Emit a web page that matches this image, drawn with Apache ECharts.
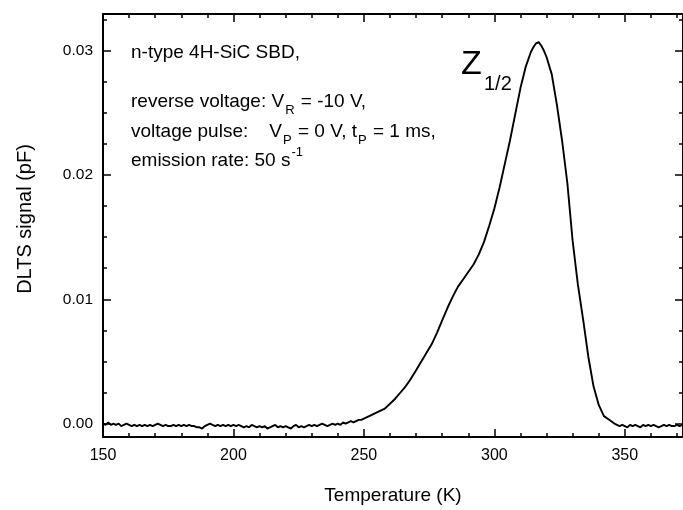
<!DOCTYPE html>
<html>
<head>
<meta charset="utf-8">
<script src="https://cdn.jsdelivr.net/npm/echarts@6.0.0/dist/echarts.min.js"></script>
<style>
    html, body { margin: 0; padding: 0; background: #fff; overflow: hidden; }
    #chart { width: 683px; height: 510px; }
</style>
</head>
<body>
<div id="chart"></div>
<script>
'use strict';
// 温度 (K)
var TEMPERATURE = [
    150, 151, 152, 153, 154, 155, 156, 157, 158, 159,
    160, 161, 162, 163, 164, 165, 166, 167, 168, 169,
    170, 171, 172, 173, 174, 175, 176, 177, 178, 179,
    180, 181, 182, 183, 184, 185, 186, 187, 188, 189,
    190, 191, 192, 193, 194, 195, 196, 197, 198, 199,
    200, 201, 202, 203, 204, 205, 206, 207, 208, 209,
    210, 211, 212, 213, 214, 215, 216, 217, 218, 219,
    220, 221, 222, 223, 224, 225, 226, 227, 228, 229,
    230, 231, 232, 233, 234, 235, 236, 237, 238, 239,
    240, 241, 242, 243, 244, 245, 246, 247, 248, 249,
    250, 252, 254, 256, 258, 260, 262, 264, 266, 268,
    270, 272, 274, 276, 278, 280, 282, 284, 286, 288,
    290, 292, 294, 296, 298, 300, 302, 304, 306, 308,
    310, 312, 314, 315, 316, 317, 318, 319, 320, 322,
    324, 326, 328, 330, 332, 334, 336, 338, 340, 342,
    344, 346, 347, 348, 349, 350, 351, 352, 353, 354,
    355, 356, 357, 358, 359, 360, 361, 362, 363, 364,
    365, 366, 367, 368, 369, 370, 371, 372
];
// DLTS 信号 (pF)
var SIGNAL = [
    0.0000, -0.0001, 0.0001, -0.0001, 0.0000, -0.0001, 0.0000, -0.0002, -0.0001, 0.0000,
    -0.0001, -0.0002, -0.0001, -0.0002, -0.0001, -0.0002, -0.0001, -0.0002, -0.0001, -0.0002,
    -0.0001, 0.0000, -0.0001, -0.0002, -0.0001, -0.0002, -0.0002, -0.0001, -0.0002, -0.0001,
    -0.0002, -0.0001, -0.0002, -0.0001, -0.0002, -0.0002, -0.0003, -0.0003, -0.0004, -0.0002,
    -0.0001, 0.0000, -0.0001, -0.0002, -0.0001, -0.0002, -0.0001, -0.0002, -0.0001, -0.0002,
    -0.0001, -0.0002, -0.0001, -0.0002, -0.0003, -0.0002, -0.0003, -0.0001, -0.0002, -0.0003,
    -0.0002, -0.0003, -0.0002, -0.0004, -0.0003, -0.0002, -0.0001, -0.0003, -0.0002, -0.0003,
    -0.0002, -0.0003, -0.0004, -0.0002, -0.0001, -0.0003, -0.0002, -0.0003, -0.0002, -0.0001,
    -0.0002, -0.0001, -0.0002, -0.0001, 0.0000, -0.0001, -0.0002, -0.0001, 0.0000, -0.0001,
    0.0000, -0.0001, 0.0001, 0.0000, 0.0001, 0.0002, 0.0001, 0.0002, 0.0003, 0.0003,
    0.0004, 0.0006, 0.0008, 0.0010, 0.0012, 0.0016, 0.0020, 0.0025, 0.0030, 0.0036,
    0.0043, 0.0050, 0.0057, 0.0064, 0.0073, 0.0083, 0.0093, 0.0102, 0.0110, 0.0116,
    0.0122, 0.0128, 0.0136, 0.0146, 0.0159, 0.0173, 0.0190, 0.0209, 0.0228, 0.0249,
    0.0270, 0.0287, 0.0299, 0.0303, 0.0306, 0.0307, 0.0304, 0.0300, 0.0295, 0.0281,
    0.0256, 0.0227, 0.0193, 0.0147, 0.0112, 0.0084, 0.0054, 0.0030, 0.0015, 0.0006,
    0.0003, 0.0000, -0.0001, -0.0002, -0.0001, -0.0002, -0.0003, -0.0001, -0.0002, -0.0001,
    -0.0002, -0.0003, -0.0001, -0.0002, -0.0001, -0.0002, -0.0001, -0.0002, -0.0003, -0.0002,
    -0.0001, -0.0002, -0.0001, -0.0002, -0.0002, -0.0001, -0.0002, -0.0001
];
// 刻度
var X_MAJOR = [150, 200, 250, 300, 350];
var X_MINOR = [160, 170, 180, 190, 210, 220, 230, 240, 260, 270, 280, 290, 310, 320, 330, 340, 360, 370];
var Y_MAJOR = [0, 0.01, 0.02, 0.03];
var Y_MINOR = [0.0025, 0.005, 0.0075, 0.0125, 0.015, 0.0175, 0.0225, 0.025, 0.0275, 0.0325];

var X_MIN = 150, X_MAX = 372.3;
var Y_MIN = -0.00108, Y_MAX = 0.03296;
var FONT = 'Liberation Sans, Arial, sans-serif';

var chart = echarts.init(document.getElementById('chart'));

var data = [];
for (var i = 0; i < TEMPERATURE.length; i++) {
    data.push([TEMPERATURE[i], SIGNAL[i]]);
}

// 生成一根只有刻度的坐标轴
function tickAxis(position, min, max, values, len, showLine) {
    return {
        type: 'value',
        position: position,
        min: min,
        max: max,
        axisLine: { show: showLine, onZero: false, lineStyle: { color: '#000', width: 2 } },
        axisTick: { inside: true, length: len, customValues: values, lineStyle: { color: '#000', width: 1.5 } },
        axisLabel: { show: false, customValues: values },
        splitLine: { show: false }
    };
}

var xMain = {
    type: 'value',
    position: 'bottom',
    min: X_MIN,
    max: X_MAX,
    name: 'Temperature (K)',
    nameLocation: 'middle',
    nameGap: 49,
    nameTextStyle: { color: '#000', fontSize: 19, fontFamily: FONT },
    axisLine: { onZero: false, lineStyle: { color: '#000', width: 2 } },
    axisTick: { inside: true, length: 8, customValues: X_MAJOR, lineStyle: { color: '#000', width: 1.5 } },
    axisLabel: { customValues: X_MAJOR, color: '#000', fontSize: 16, fontFamily: FONT, margin: 11 },
    splitLine: { show: false }
};

var yMain = {
    type: 'value',
    position: 'left',
    min: Y_MIN,
    max: Y_MAX,
    axisLine: { onZero: false, lineStyle: { color: '#000', width: 2 } },
    axisTick: { inside: true, length: 8, customValues: Y_MAJOR, lineStyle: { color: '#000', width: 1.5 } },
    axisLabel: {
        customValues: Y_MAJOR, color: '#000', fontSize: 15.5, fontFamily: FONT, margin: 10,
        formatter: function (v) { return v.toFixed(2); }
    },
    splitLine: { show: false }
};

// 注释文字样式
var txt = { fontSize: 19, fontFamily: FONT, color: '#000', lineHeight: 30 };
var sub = { fontSize: 13, fontFamily: FONT, color: '#000', lineHeight: 13, verticalAlign: 'bottom', padding: [0, 1, 0, 1] };
var sup = { fontSize: 13, fontFamily: FONT, color: '#000', lineHeight: 13, verticalAlign: 'top', padding: [0, 0, 0, 1] };

function note(x, y, text) {
    return {
        type: 'text', x: x, y: y,
        style: { text: text, rich: { t: txt, s: sub, p: sup }, align: 'left', verticalAlign: 'middle' }
    };
}

var option = {
    animation: false,
    backgroundColor: '#fff',
    grid: { left: 103, top: 14, width: 581, height: 434, containLabel: false },
    xAxis: [
        xMain,
        tickAxis('bottom', X_MIN, X_MAX, X_MINOR, 4, false),
        tickAxis('top', X_MIN, X_MAX, X_MAJOR, 8, true),
        tickAxis('top', X_MIN, X_MAX, X_MINOR, 4, false)
    ],
    yAxis: [
        yMain,
        tickAxis('left', Y_MIN, Y_MAX, Y_MINOR, 4, false),
        tickAxis('right', Y_MIN, Y_MAX, Y_MAJOR, 8, true),
        tickAxis('right', Y_MIN, Y_MAX, Y_MINOR, 4, false)
    ],
    series: [{
        type: 'line',
        xAxisIndex: 0,
        yAxisIndex: 0,
        data: data,
        showSymbol: false,
        lineStyle: { color: '#000', width: 1.9 }
    }],
    graphic: [
        // y轴标题
        {
            type: 'text', x: 25, y: 219, rotation: Math.PI / 2,
            style: { text: 'DLTS signal (pF)', font: '20px ' + FONT, fill: '#000', align: 'center', verticalAlign: 'middle' }
        },
        note(131, 53, '{t|n-type 4H-SiC SBD,}'),
        note(131, 102, '{t|reverse voltage: V}{s|R}{t| = -10 V,}'),
        note(131, 132, '{t|voltage pulse:    V}{s|P}{t| = 0 V, t}{s|P}{t| = 1 ms,}'),
        note(131, 161, '{t|emission rate: 50 s}{p|-1}'),
        {
            type: 'text', x: 461, y: 64.5,
            style: { text: 'Z', font: '34px ' + FONT, fill: '#000', align: 'left', verticalAlign: 'middle' }
        },
        {
            type: 'text', x: 484, y: 84,
            style: { text: '1/2', font: '20px ' + FONT, fill: '#000', align: 'left', verticalAlign: 'middle' }
        }
    ]
};
chart.setOption(option);
</script>
</body>
</html>
